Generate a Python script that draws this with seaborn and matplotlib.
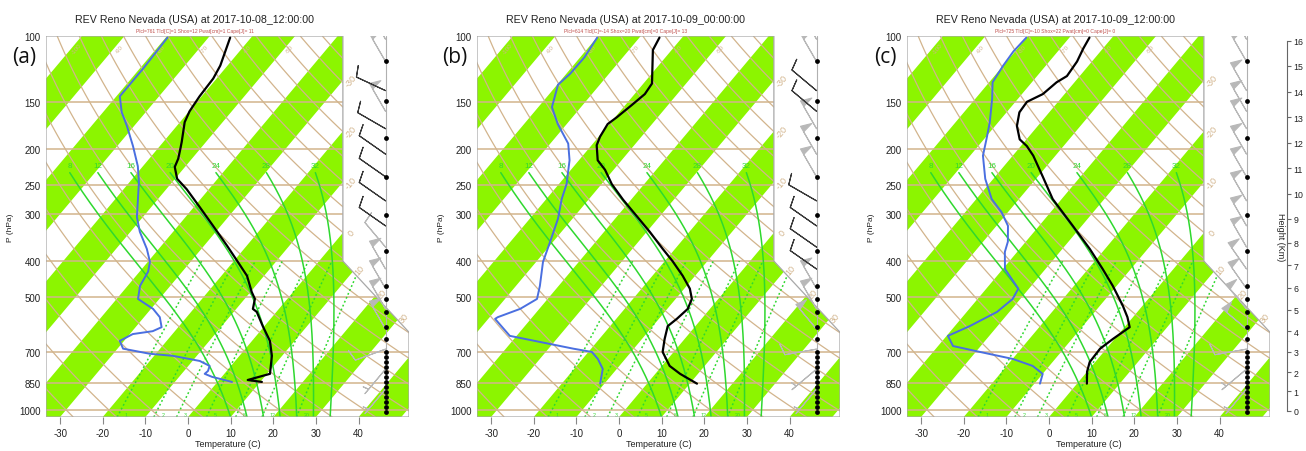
import numpy as np
import pandas as pd
import matplotlib
matplotlib.use("Agg")
import matplotlib.pyplot as plt
import seaborn as sns
from matplotlib.patches import Polygon
from matplotlib.collections import LineCollection
from matplotlib.ticker import NullLocator, FixedLocator

sns.set_theme(style="white")
plt.rcParams["font.family"] = ["Liberation Sans", "DejaVu Sans"]

# ---------------- data ----------------
titles = ["REV Reno Nevada (USA) at 2017-10-08_12:00:00",
          "REV Reno Nevada (USA) at 2017-10-09_00:00:00",
          "REV Reno Nevada (USA) at 2017-10-09_12:00:00"]
subtitles = ["Plcl=761 Tlcl[C]=1 Shox=12 Pwat[cm]=1 Cape[J]= 11",
             "Plcl=614 Tlcl[C]=-14 Shox=20 Pwat[cm]=0 Cape[J]= 13",
             "Plcl=725 Tlcl[C]=-10 Shox=22 Pwat[cm]=0 Cape[J]= 0"]
panel_tags = ["(a)", "(b)", "(c)"]

p_ticks = [100, 150, 200, 250, 300, 400, 500, 700, 850, 1000]
t_ticks = [-30, -20, -10, 0, 10, 20, 30, 40]

a_temp_p = [101, 120, 130, 145, 159, 170, 192, 200, 213, 224, 241, 257, 287, 322, 364, 402, 438, 484, 505, 537, 547, 597, 654, 717, 801, 832, 842]
a_temp_t = [-64.9, -61.7, -60.8, -60.5, -59.9, -58.9, -55.7, -54.7, -53.2, -52.4, -49.5, -45.2, -38.6, -31.8, -24.6, -18.9, -14.0, -9.7, -7.6, -6.1, -4.6, -0.4, 4.2, 7.6, 10.7, 6.7, 10.4]
a_dew_p = [101, 122, 145, 160, 174, 197, 223, 246, 273, 305, 334, 371, 402, 427, 466, 505, 537, 565, 601, 616, 627, 654, 686, 708, 717, 740, 763, 787, 801, 816, 842]
a_dew_t = [-79.6, -79.2, -79.2, -75.6, -71.7, -66.3, -61.2, -57.8, -54.7, -51.4, -47.8, -42.8, -39.5, -38.0, -37.1, -35.0, -29.5, -26.3, -23.9, -25.2, -29.3, -31.0, -28.7, -21.4, -15.6, -8.3, -5.0, -4.4, -4.6, -2.3, 3.4]

b_temp_p = [101, 109, 134, 143, 153, 165, 172, 186, 196, 215, 228, 249, 274, 303, 334, 371, 400, 438, 474, 505, 537, 571, 597, 646, 700, 763, 801, 851]
b_temp_t = [-65.3, -64.4, -58.0, -57.6, -58.5, -59.6, -60.4, -59.7, -58.8, -55.6, -52.0, -47.6, -41.9, -35.5, -29.3, -22.9, -18.2, -12.9, -8.7, -6.2, -5.2, -5.8, -6.5, -4.7, -2.6, 1.8, 5.8, 11.7]
b_dew_p = [101, 114, 126, 135, 155, 172, 194, 215, 249, 273, 308, 355, 402, 466, 505, 537, 565, 571, 634, 658, 686, 700, 731, 777, 851]
b_dew_t = [-79.9, -79.0, -79.1, -79.8, -76.8, -72.1, -65.8, -62.2, -58.2, -56.4, -53.4, -50.7, -48.4, -44.4, -42.5, -44.5, -48.1, -48.4, -41.6, -33.4, -24.2, -19.2, -16.4, -13.3, -11.0]

c_temp_p = [101, 108, 117, 128, 133, 143, 150, 160, 174, 189, 197, 209, 238, 273, 322, 371, 420, 466, 527, 565, 601, 646, 686, 745, 791, 851]
c_temp_t = [-65.3, -64.6, -63.5, -63.0, -64.2, -65.1, -67.3, -67.0, -64.9, -61.6, -58.6, -55.2, -48.8, -42.1, -32.1, -23.6, -16.6, -10.9, -4.6, -1.3, 1.2, -0.4, -1.5, -1.3, 0.0, 2.3]
c_dew_p = [101, 110, 120, 133, 147, 170, 189, 209, 241, 273, 296, 322, 355, 378, 420, 447, 474, 505, 547, 597, 634, 675, 700, 731, 763, 801, 851]
c_dew_t = [-80.1, -80.4, -80.0, -79.2, -76.1, -72.0, -69.4, -67.0, -61.9, -56.4, -51.5, -47.3, -44.2, -42.9, -39.5, -35.9, -32.5, -31.8, -32.9, -36.5, -39.7, -36.5, -29.0, -19.9, -13.9, -10.0, -8.7]

temp_p = [a_temp_p, b_temp_p, c_temp_p]
temp_t = [a_temp_t, b_temp_t, c_temp_t]
dew_p = [a_dew_p, b_dew_p, c_dew_p]
dew_t = [a_dew_t, b_dew_t, c_dew_t]

# wind column: dots and barbs
dot_p = [117, 149, 188, 238, 301, 376, 466, 505, 548, 600, 645, 701, 723, 746, 769, 793, 818, 844, 870, 897, 925, 954, 984, 1015]
barb_p = [102, 117, 140, 159, 177, 207, 238, 276, 322, 367, 420, 474, 537, 608, 688, 778, 880]
a_spd = [50, 50, 10, 50, 10, 10, 10, 10, 10, 10, 50, 50, 50, 50, 10, 5, 5]
a_dir = [330, 330, 295, 330, 300, 305, 305, 305, 305, 320, 330, 330, 330, 330, 250, 220, 220]
a_dark = [0, 0, 1, 0, 1, 1, 1, 1, 1, 0, 0, 0, 0, 0, 0, 0, 0]
b_spd = [50, 50, 10, 10, 50, 50, 50, 10, 10, 10, 10, 50, 50, 50, 10, 5, 5]
b_dir = [330, 330, 310, 310, 330, 330, 330, 300, 305, 305, 305, 330, 330, 320, 260, 230, 220]
b_dark = [0, 0, 1, 1, 0, 0, 0, 1, 1, 1, 1, 0, 0, 0, 0, 0, 0]
c_spd = [50, 50, 50, 50, 50, 50, 50, 50, 50, 50, 50, 50, 50, 50, 10, 5, 5]
c_dir = [330, 330, 330, 330, 330, 330, 330, 330, 330, 330, 325, 325, 320, 310, 260, 230, 220]
c_dark = [0, 0, 0, 0, 0, 0, 0, 0, 0, 0, 0, 0, 0, 0, 0, 0, 0]
barb_spd = [a_spd, b_spd, c_spd]
barb_dir = [a_dir, b_dir, c_dir]
barb_dark = [a_dark, b_dark, c_dark]

height_km = list(range(17))
height_p = [1005, 893, 793, 700, 617, 540, 471, 411, 357, 308, 264, 226, 193, 165, 141, 120, 103]

moist_labels = [8, 12, 16, 20, 24, 28, 32]
mix_ratios = [1, 2, 3, 5, 8, 12, 20]

# ---------------- geometry / styling ----------------
W, H = 1306, 452
panel_left = [46, 477, 907]
ax_w, ax_top, ax_bot = 363, 37, 418
P_BOT, P_TOP, SKEW = 1045.0, 100.0, 32.0
XMIN, XMAX = -33.3, 51.8
X_COL = 46.3
GREEN = "#8cf500"
TAN = "#d2b48c"
MGREEN = "#2fd82f"


def skx(T, p):
    return np.asarray(T, float) + SKEW * np.log(P_BOT / np.asarray(p, float))


Rd, Cp, Lv, EPS = 287.04, 1005.7, 2.501e6, 0.622


def dTdlnp(T, p):
    es = 6.112 * np.exp(17.67 * (T - 273.15) / (T - 29.65))
    rs = EPS * es / (p - es)
    return (Rd * T + Lv * rs) / (Cp + Lv * Lv * rs * EPS / (Rd * T * T))


def integrate(T0, p0, p1, n=300):
    lp = np.linspace(np.log(p0), np.log(p1), n)
    h = lp[1] - lp[0]
    T = np.empty(n)
    T[0] = T0
    for k in range(n - 1):
        p = np.exp(lp[k])
        k1 = dTdlnp(T[k], p)
        k2 = dTdlnp(T[k] + 0.5 * h * k1, np.exp(lp[k] + 0.5 * h))
        k3 = dTdlnp(T[k] + 0.5 * h * k2, np.exp(lp[k] + 0.5 * h))
        k4 = dTdlnp(T[k] + h * k3, np.exp(lp[k + 1]))
        T[k + 1] = T[k] + h / 6 * (k1 + 2 * k2 + 2 * k3 + k4)
    return np.exp(lp), T


def moist_line(Tc):
    pu, Tu = integrate(Tc + 273.15, 1000.0, 232.0)
    pd_, Td = integrate(Tc + 273.15, 1000.0, P_BOT, 20)
    p = np.concatenate([pd_[::-1], pu[1:]])
    T = np.concatenate([Td[::-1], Tu[1:]]) - 273.15
    return p, T


def mix_line(w, p):
    e = w * p / (622.0 + w)
    lg = np.log(e / 6.112)
    return 243.5 * lg / (17.67 - lg)


fig = plt.figure(figsize=(W / 100, H / 100), dpi=100)

for i in range(3):
    L = panel_left[i]
    ax = fig.add_axes([L / W, 1 - ax_bot / H, ax_w / W, (ax_bot - ax_top) / H])

    # profiles through seaborn
    df_t = pd.DataFrame({"X": skx(temp_t[i], temp_p[i]), "p": temp_p[i]})
    df_d = pd.DataFrame({"X": skx(dew_t[i], dew_p[i]), "p": dew_p[i]})
    sns.lineplot(data=df_t, x="X", y="p", sort=False, estimator=None, color="black",
                 lw=1.6, ax=ax, zorder=6)
    sns.lineplot(data=df_d, x="X", y="p", sort=False, estimator=None, color="#4a6fe0",
                 lw=1.4, ax=ax, zorder=6)

    ax.set_yscale("log")
    ax.set_ylim(P_BOT, P_TOP)
    ax.set_xlim(XMIN, XMAX)
    for s in ax.spines.values():
        s.set_visible(False)
    ax.set_facecolor("none")

    verts = [(XMIN, P_BOT), (XMIN, P_TOP), (36.3, P_TOP), (36.3, 400), (51.8, 620), (51.8, P_BOT)]
    frame = Polygon(verts, closed=True, transform=ax.transData, facecolor="none",
                    edgecolor="#a8a8a8", lw=0.9, zorder=5)
    ax.add_patch(frame)
    clip = Polygon(verts, closed=True, transform=ax.transData, facecolor="none", edgecolor="none")
    ax.add_patch(clip)

    top_shift = SKEW * np.log(P_BOT / P_TOP)
    # green isotherm bands
    for T0 in range(-160, 60, 20):
        band = Polygon([(T0, P_BOT), (T0 + top_shift, P_TOP), (T0 + 10 + top_shift, P_TOP), (T0 + 10, P_BOT)],
                       closed=True, transform=ax.transData, facecolor=GREEN, edgecolor="none", zorder=1)
        ax.add_patch(band)
        band.set_clip_path(clip)

    pp = np.geomspace(P_BOT, P_TOP, 120)
    # dry adiabats
    segs = []
    for th in range(-40, 190, 10):
        T = (th + 273.15) * (pp / 1000.0) ** 0.2857 - 273.15
        segs.append(np.column_stack([skx(T, pp), pp]))
    lc = LineCollection(segs, colors=TAN, linewidths=0.9, zorder=2)
    ax.add_collection(lc)
    lc.set_clip_path(clip)

    # isobars
    for p in p_ticks[1:]:
        ln, = ax.plot([XMIN, XMAX], [p, p], color=TAN, lw=1.1, zorder=2)
        ln.set_clip_path(clip)

    # moist adiabats
    for tw in moist_labels:
        p, T = moist_line(tw)
        ln, = ax.plot(skx(T, p), p, color=MGREEN, lw=1.1, zorder=3)
        ln.set_clip_path(clip)
        ax.text(skx(T[-1], p[-1]), 222, str(tw), color=MGREEN, fontsize=5.8,
                ha="center", va="center", zorder=3)

    # mixing ratio lines
    pm = np.geomspace(P_BOT, 400, 60)
    for w in mix_ratios:
        Tm = mix_line(w, pm)
        ln, = ax.plot(skx(Tm, pm), pm, color=MGREEN, lw=1.1, ls=(0, (1.2, 1.6)), zorder=3)
        ln.set_clip_path(clip)
        ax.text(skx(Tm[0], 1028) + 1.2, 1028, str(w), color=MGREEN, fontsize=3.8,
                ha="left", va="center", zorder=3, clip_on=True)

    # isotherm labels
    for T in [-30, -20, -10, 0]:
        p = P_BOT * np.exp(-(36.3 - T) / SKEW)
        ax.text(38.2, p, str(T), color=TAN, fontsize=6.5, rotation=50, ha="center", va="center")
    for T in [10, 20, 30]:
        p = np.exp((T + 398.44) / 67.43)
        ax.text(skx(T, p) + 1.6, p * 0.985, str(T), color=TAN, fontsize=6.5, rotation=50,
                ha="center", va="center")
    for T in [-100, -90, -80, -70, -60, -50]:
        ax.text(skx(T, 108) + 1.2, 108, str(T), color=TAN, fontsize=4.5, rotation=50,
                ha="center", va="center", zorder=2)

    # wind column
    ax.plot([X_COL, X_COL], [P_TOP, dot_p[-1]], color="#b0b0b0", lw=0.8, zorder=6)
    ax.scatter([X_COL] * len(dot_p), dot_p, s=12, color="black", zorder=7, linewidths=0)
    spd = np.array(barb_spd[i], float)
    dr = np.deg2rad(np.array(barb_dir[i], float))
    u = -spd * np.sin(dr)
    v = -spd * np.cos(dr)
    dark = np.array(barb_dark[i], bool)
    bp = np.array(barb_p, float)
    xs = np.full(len(bp), X_COL)
    for mask, col in [(~dark, "#b8b8b8"), (dark, "#3a3a3a")]:
        if mask.any():
            ax.barbs(xs[mask], bp[mask], u[mask], v[mask], length=6.8, barbcolor=col,
                     flagcolor=col, linewidth=0.8, zorder=6,
                     sizes=dict(height=0.35, width=0.2, spacing=0.12))

    # axes ticks / labels
    ax.yaxis.set_major_locator(FixedLocator(p_ticks))
    ax.yaxis.set_minor_locator(NullLocator())
    ax.set_yticklabels([str(p) for p in p_ticks])
    ax.set_xticks(t_ticks)
    ax.set_xticklabels([str(t) for t in t_ticks])
    ax.tick_params(axis="y", length=0, pad=4, labelsize=7, labelcolor="#222222")
    ax.tick_params(axis="x", length=5, width=0.8, color="#888888", direction="out", pad=3,
                   labelsize=7, labelcolor="#222222", bottom=True)
    ax.set_xlabel("Temperature (C)", fontsize=6.5, labelpad=1, color="#222222")
    ax.set_ylabel("P (hPa)", fontsize=6, color="#222222")
    ax.yaxis.set_label_coords(-0.088, 0.5)
    ax.grid(False)

    cx = (L + 148.5) / W
    fig.text(cx, 1 - 20 / H, titles[i], ha="center", va="center", fontsize=7.7, color="#222222")
    fig.text(cx, 1 - 31 / H, subtitles[i], ha="center", va="center", fontsize=3.6, color="#c0504d")
    fig.text((L - 22) / W, 1 - 58 / H, panel_tags[i], ha="center", va="center", fontsize=15,
             family=["Open Sans", "DejaVu Sans"], color="#111111")

    if i == 2:
        axh = fig.add_axes([1287 / W, 1 - ax_bot / H, 0.0001, (ax_bot - ax_top) / H])
        axh.set_yscale("log")
        axh.set_ylim(P_BOT, P_TOP)
        axh.set_xticks([])
        axh.set_facecolor("none")
        for k, s in axh.spines.items():
            s.set_visible(k == "right")
        axh.spines["right"].set_color("#666666")
        axh.spines["right"].set_linewidth(0.8)
        axh.spines["right"].set_bounds(height_p[0], height_p[-1])
        axh.yaxis.tick_right()
        axh.yaxis.set_major_locator(FixedLocator(height_p))
        axh.yaxis.set_minor_locator(NullLocator())
        axh.set_yticklabels([str(h) for h in height_km])
        axh.tick_params(axis="y", length=3, width=0.8, color="#666666", labelsize=6.3, pad=1.5,
                        labelcolor="#222222")
        fig.text(1280 / W, 1 - 237 / H, "Height (Km)", rotation=270, ha="center", va="center",
                 fontsize=6.5, color="#222222")

fig.savefig("out.png", dpi=100)
